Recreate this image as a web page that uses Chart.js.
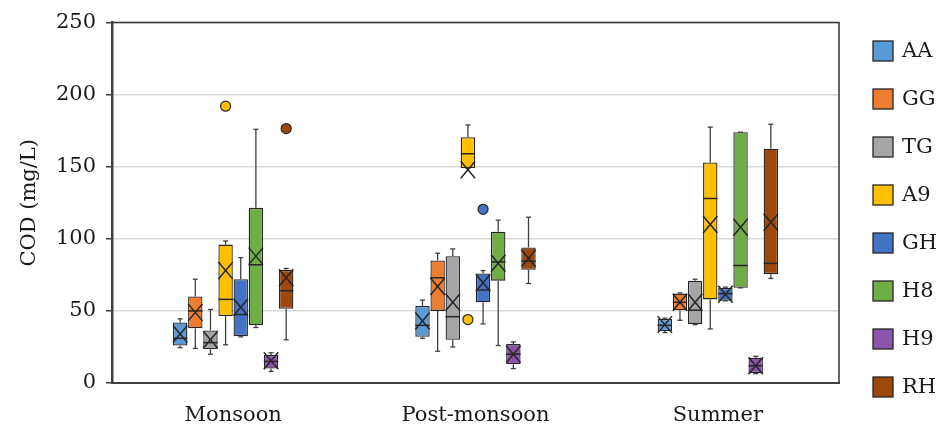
<!DOCTYPE html>
<html>
<head>
<meta charset="utf-8">
<script src="https://cdn.jsdelivr.net/npm/chart.js@4"></script>
<style>
  html, body { margin: 0; padding: 0; background: #fff; }
  #wrap { width: 945px; height: 430px; }
</style>
</head>
<body>
<div id="wrap"><canvas id="chart"></canvas></div>
<script>
// categories and series
const seasons = ['Monsoon', 'Post-monsoon', 'Summer'];
const sites = ['AA', 'GG', 'TG', 'A9', 'GH', 'H8', 'H9', 'RH'];
const colors = ['#5B9BD5', '#ED7D31', '#A5A5A5', '#FFC000', '#4472C4', '#70AD47', '#8A56AC', '#9E480E'];

// box stats, one row per site: [Monsoon, Post-monsoon, Summer]
const mins = [
  [24.5, 31, 35],
  [24, 22, 43.5],
  [20, 25, 40.5],
  [26.5, 149, 37.5],
  [32, 41, 57],
  [38.5, 26, 66],
  [8, 10, 6.5],
  [30, 69, 72.5]
];
const q1s = [
  [26, 32, 36],
  [38, 50, 50.5],
  [23.5, 30, 41],
  [46.5, 149, 58],
  [32.5, 56, 57],
  [40, 71, 66],
  [10, 13, 7],
  [51.5, 78.5, 75.5]
];
const medians = [
  [31, 40, 40],
  [50, 73, 56],
  [28, 46, 50.5],
  [58, 159, 128],
  [47.5, 64.5, 62],
  [82, 84, 81.5],
  [15, 20, 12],
  [64, 84.5, 83]
];
const q3s = [
  [42, 53.5, 44.5],
  [60, 85, 62],
  [36.5, 88, 71],
  [96, 170.5, 153],
  [72, 76, 66],
  [121.5, 105, 174],
  [19.5, 27, 17.5],
  [78.5, 94, 162.5]
];
const maxs = [
  [44.5, 57.5, 45],
  [72, 90, 62.5],
  [51, 93, 72],
  [98.5, 179, 177.5],
  [87, 78, 66.5],
  [176, 113, 174],
  [21, 28.5, 18.5],
  [79.5, 115, 179.5]
];
const means = [
  [34, 43, 40.5],
  [49, 67, 56],
  [30, 56, 56],
  [78, 148, 110],
  [52.5, 69.5, 61.5],
  [88, 83, 108],
  [15.5, 20, 12],
  [73, 86.5, 111.5]
];
const outliers = [
  [[], [], []],
  [[], [], []],
  [[], [], []],
  [[192], [44], []],
  [[], [120.5], []],
  [[], [], []],
  [[], [], []],
  [[176.5], [], []]
];
const yTicks = [0, 50, 100, 150, 200, 250];

const FONT = 'DejaVu Serif';
const TEXT = '#1a1a1a';
const EDGE = '#262626';

function seg(ctx, x1, y1, x2, y2) {
  ctx.beginPath();
  ctx.moveTo(x1, y1);
  ctx.lineTo(x2, y2);
  ctx.stroke();
}

// whiskers, medians, mean crosses and outliers on top of the floating bars
const boxExtras = {
  id: 'boxExtras',
  afterDatasetsDraw(chart) {
    const ctx = chart.ctx;
    const ys = chart.scales.y;
    const px = v => ys.getPixelForValue(v);
    chart.data.datasets.forEach((ds, i) => {
      chart.getDatasetMeta(i).data.forEach((bar, j) => {
        const x = bar.x;
        const hw = bar.width / 2;
        ctx.save();
        ctx.lineCap = 'butt';
        ctx.strokeStyle = '#404040';
        ctx.lineWidth = 1.3;
        seg(ctx, x, px(q3s[i][j]), x, px(maxs[i][j]));
        seg(ctx, x, px(q1s[i][j]), x, px(mins[i][j]));
        seg(ctx, x - 2.5, px(maxs[i][j]), x + 2.5, px(maxs[i][j]));
        seg(ctx, x - 2.5, px(mins[i][j]), x + 2.5, px(mins[i][j]));

        ctx.strokeStyle = EDGE;
        ctx.lineWidth = 1.5;
        seg(ctx, x - hw, px(medians[i][j]), x + hw, px(medians[i][j]));

        const my = px(means[i][j]);
        const hh = 8.5;
        seg(ctx, x - hw, my - hh, x + hw, my + hh);
        seg(ctx, x - hw, my + hh, x + hw, my - hh);

        outliers[i][j].forEach(v => {
          ctx.beginPath();
          ctx.arc(x, px(v), 5, 0, Math.PI * 2);
          ctx.fillStyle = colors[i];
          ctx.fill();
          ctx.lineWidth = 1.2;
          ctx.strokeStyle = EDGE;
          ctx.stroke();
        });
        ctx.restore();
      });
    });
  }
};

// thin frame on top and right of the plot area
const frame = {
  id: 'frame',
  afterDraw(chart) {
    const { ctx, chartArea: a } = chart;
    ctx.save();
    ctx.strokeStyle = '#333';
    ctx.lineWidth = 1.5;
    ctx.beginPath();
    ctx.moveTo(a.left, a.top);
    ctx.lineTo(a.right, a.top);
    ctx.lineTo(a.right, a.bottom);
    ctx.stroke();
    ctx.restore();
  }
};

// legend column on the right
const sideLegend = {
  id: 'sideLegend',
  afterDraw(chart) {
    const ctx = chart.ctx;
    ctx.save();
    ctx.font = '21px "' + FONT + '"';
    ctx.textBaseline = 'middle';
    ctx.textAlign = 'left';
    sites.forEach((s, i) => {
      const top = 41 + i * 48;
      ctx.fillStyle = colors[i];
      ctx.fillRect(873, top, 20, 20);
      ctx.strokeStyle = EDGE;
      ctx.lineWidth = 1.3;
      ctx.strokeRect(873, top, 20, 20);
      ctx.fillStyle = TEXT;
      ctx.fillText(s, 902, top + 11);
    });
    ctx.restore();
  }
};

const datasets = sites.map((s, i) => ({
  label: s,
  data: seasons.map((_, j) => [q1s[i][j], q3s[i][j]]),
  backgroundColor: colors[i],
  borderColor: EDGE,
  borderWidth: 1.3,
  borderSkipped: false,
  categoryPercentage: 0.5,
  barPercentage: 0.95
}));

new Chart(document.getElementById('chart'), {
  type: 'bar',
  data: { labels: seasons, datasets },
  plugins: [boxExtras, frame, sideLegend],
  options: {
    responsive: true,
    maintainAspectRatio: false,
    animation: false,
    layout: { padding: { top: 20, right: 106, bottom: 0, left: 0 } },
    plugins: {
      legend: { display: false },
      tooltip: { enabled: false }
    },
    scales: {
      x: {
        afterFit: s => { s.height = 47; },
        grid: { display: false, drawTicks: false },
        border: { color: '#404040', width: 2 },
        ticks: { color: TEXT, padding: 20, font: { family: FONT, size: 21 } }
      },
      y: {
        min: 0,
        max: 250,
        afterFit: s => { s.width = 112; },
        afterBuildTicks: s => { s.ticks = yTicks.map(v => ({ value: v })); },
        grid: { color: '#d9d9d9', lineWidth: 1.5, tickColor: '#404040', tickLength: 6 },
        border: { color: '#404040', width: 2.5 },
        ticks: { color: TEXT, padding: 10, font: { family: FONT, size: 21 } },
        title: {
          display: true,
          text: 'COD (mg/L)',
          color: TEXT,
          padding: { top: 17, bottom: 0 },
          font: { family: FONT, size: 21 }
        }
      }
    }
  }
});
</script>
</body>
</html>
